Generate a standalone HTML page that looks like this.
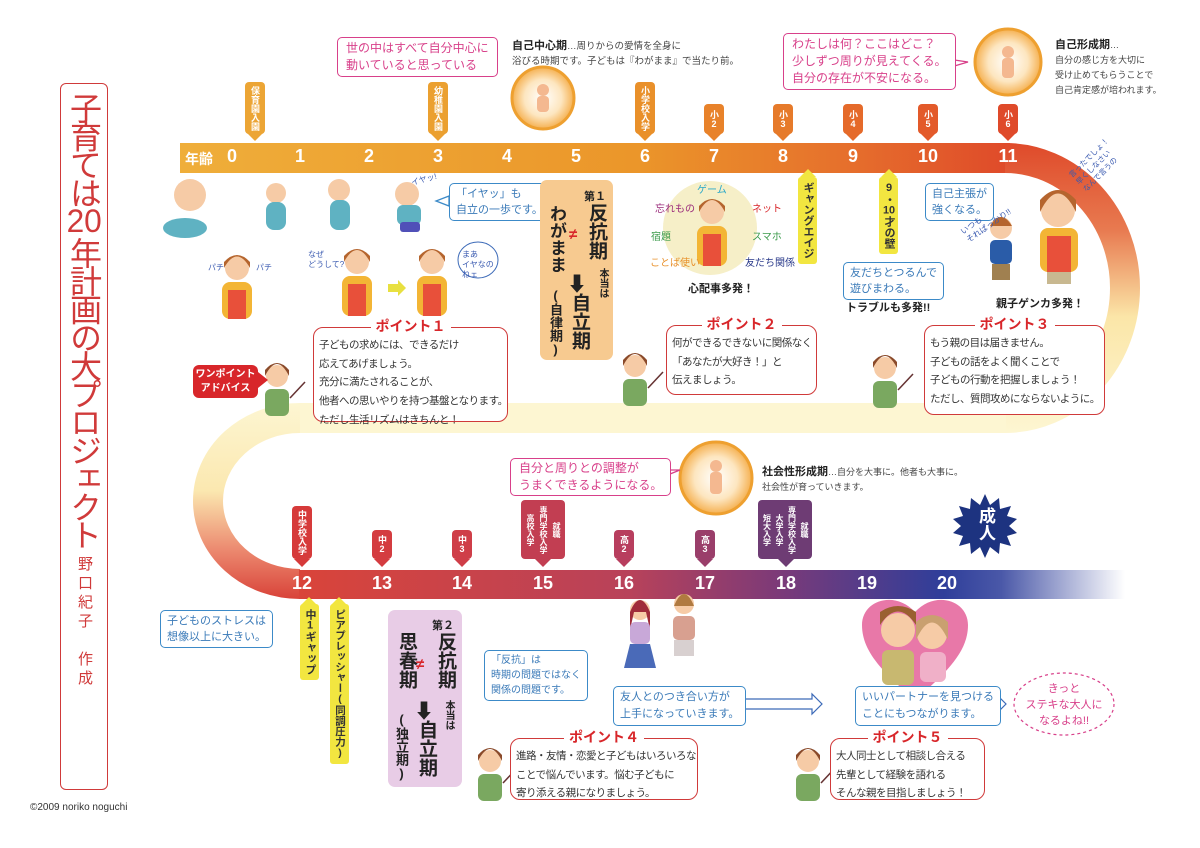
<!DOCTYPE html>
<html><head><meta charset="utf-8">
<style>
*{margin:0;padding:0;box-sizing:border-box}
body{width:1200px;height:848px;position:relative;background:#fff;font-family:"Liberation Sans","Noto Sans CJK JP",sans-serif;overflow:hidden;color:#333}
.a{position:absolute;white-space:nowrap}
.v{writing-mode:vertical-rl;text-orientation:upright}
.tag{position:absolute;width:20px;color:#fff;font-size:9px;line-height:20px;writing-mode:vertical-rl;text-orientation:upright;text-align:center;border-radius:4px;padding:4px 0;font-weight:bold;white-space:nowrap}
.num{position:absolute;color:#fff;font-size:18px;font-weight:bold;transform:translateX(-50%)}
.box{position:absolute;background:#fff;border:1.5px solid;border-radius:5px;font-size:11px;line-height:17px;padding:2px 6px;white-space:nowrap}
.pink{border-color:#d8408a;color:#d8408a}
.blue{border-color:#3c8ac8;color:#3a7ab8}
.pt{position:absolute;border:1.5px solid #d03a3a;border-radius:10px;background:#fff;font-size:10.5px;letter-spacing:-0.5px;line-height:18.7px;padding:8px 5px 4px;white-space:nowrap;color:#333}
.pt b{position:absolute;top:-11px;left:50%;transform:translateX(-50%);background:#fff;color:#d8262a;font-size:14px;padding:0 5px;line-height:18px;letter-spacing:0}
.yt{position:absolute;width:19px;background:#f2e640;color:#333;font-size:11px;font-weight:bold;writing-mode:vertical-rl;text-orientation:upright;text-align:center;line-height:19px;border-radius:3px;padding:5px 0;white-space:nowrap}
.cu{text-combine-upright:all}
</style></head><body>

<svg width="1200" height="848" style="position:absolute;left:0;top:0">
<defs>
<linearGradient id="gt" x1="180" y1="0" x2="1010" y2="0" gradientUnits="userSpaceOnUse">
<stop offset="0" stop-color="#efae3a"/><stop offset="0.55" stop-color="#eb962a"/><stop offset="0.8" stop-color="#e6702c"/><stop offset="1" stop-color="#df4a2a"/></linearGradient>
<linearGradient id="gr" x1="0" y1="143" x2="0" y2="433" gradientUnits="userSpaceOnUse">
<stop offset="0" stop-color="#df4a2a"/><stop offset="0.3" stop-color="#e87a50"/><stop offset="0.6" stop-color="#fbe6a8"/><stop offset="1" stop-color="#fdf6d2"/></linearGradient>
<linearGradient id="gl" x1="0" y1="403" x2="0" y2="598" gradientUnits="userSpaceOnUse">
<stop offset="0" stop-color="#fdf6d2"/><stop offset="0.45" stop-color="#fbe8b0"/><stop offset="0.75" stop-color="#ec8a70"/><stop offset="1" stop-color="#d9443a"/></linearGradient>
<linearGradient id="gb" x1="300" y1="0" x2="1125" y2="0" gradientUnits="userSpaceOnUse">
<stop offset="0" stop-color="#d9443a"/><stop offset="0.4" stop-color="#b8425a"/><stop offset="0.58" stop-color="#7c3a78"/><stop offset="0.78" stop-color="#2f3e9a"/><stop offset="0.85" stop-color="#4a58a8"/><stop offset="1" stop-color="#ffffff"/></linearGradient>
<radialGradient id="gc"><stop offset="0" stop-color="#fff"/><stop offset="0.6" stop-color="#fde6c0"/><stop offset="1" stop-color="#f5b050"/></radialGradient>
</defs>
<rect x="180" y="143" width="830" height="30" fill="url(#gt)"/>
<path d="M1005 158 A120 130 0 0 1 1005 418" fill="none" stroke="url(#gr)" stroke-width="30"/>
<rect x="300" y="403" width="706" height="30" fill="#fdf6d2"/>
<path d="M300 418 A92 83 0 0 0 300 584" fill="none" stroke="url(#gl)" stroke-width="30"/>
<rect x="299" y="570" width="826" height="29" fill="url(#gb)"/>

<g><circle cx="543" cy="98" r="31" fill="url(#gc)" stroke="#eea030" stroke-width="3"/><circle cx="543" cy="90" r="6" fill="#f4b890"/><rect x="537" y="96" width="12" height="16" rx="4" fill="#f4b890"/></g>
<g><circle cx="1008" cy="62" r="33" fill="url(#gc)" stroke="#eea030" stroke-width="3"/><circle cx="1008" cy="52" r="6" fill="#f4b890"/><rect x="1002" y="58" width="12" height="20" rx="4" fill="#f4b890"/></g>
<g><circle cx="716" cy="478" r="36" fill="url(#gc)" stroke="#eea030" stroke-width="3"/><circle cx="716" cy="466" r="6" fill="#f4b890"/><rect x="710" y="472" width="12" height="22" rx="4" fill="#f4b890"/></g>

<circle cx="710" cy="228" r="47" fill="#f6efc8"/>
<polygon fill="#1d3380" points="985,494 990,505 999,498 1000,509 1011,506 1007,516 1017,519 1009,526 1017,533 1007,536 1011,546 1000,543 999,554 990,547 985,558 980,547 971,554 970,543 959,546 963,536 953,533 961,526 953,519 963,516 959,506 970,509 971,498 980,505"/>

<path d="M915 700 C880 670 862 650 862 625 C862 600 895 590 915 612 C935 590 968 600 968 625 C968 650 950 670 915 700Z" fill="#e878a8"/>
<circle cx="898" cy="630" r="17" fill="#f6cba6"/><path d="M880 625 Q898 598 916 625 L916 612 Q898 600 880 612Z" fill="#9a6030"/>
<circle cx="932" cy="634" r="15" fill="#f6cba6"/><path d="M916 640 Q932 605 948 640 L948 622 Q932 608 916 622Z" fill="#c9a070"/>
<rect x="882" y="650" width="32" height="35" rx="6" fill="#c8b870"/><rect x="920" y="652" width="26" height="30" rx="6" fill="#f0b0c8"/>

<g><circle cx="190" cy="195" r="16" fill="#f6cba6"/><ellipse cx="185" cy="228" rx="22" ry="10" fill="#5fb2c2"/></g>
<g><circle cx="276" cy="193" r="10" fill="#f6cba6"/><rect x="266" y="202" width="20" height="28" rx="8" fill="#5fb2c2"/></g>
<g><circle cx="339" cy="190" r="11" fill="#f6cba6"/><rect x="330" y="200" width="20" height="30" rx="8" fill="#5fb2c2"/></g>
<g><circle cx="407" cy="194" r="12" fill="#f6cba6"/><rect x="397" y="205" width="24" height="20" rx="6" fill="#5fb2c2"/><rect x="400" y="222" width="20" height="10" rx="3" fill="#5050b8"/></g>
<g><circle cx="237" cy="268" r="12" fill="#f6cba6"/><path d="M224 268 Q237 245 250 268 L250 262 Q237 248 224 262Z" fill="#b5652e"/><rect x="222" y="282" width="30" height="37" rx="8" fill="#f3b535"/><rect x="228" y="290" width="18" height="29" fill="#e8503a"/></g>
<g><circle cx="357" cy="262" r="12" fill="#f6cba6"/><path d="M344 262 Q357 238 370 262 L370 256 Q357 242 344 256Z" fill="#b5652e"/><rect x="342" y="276" width="30" height="40" rx="8" fill="#f3b535"/><rect x="348" y="284" width="18" height="32" fill="#e8503a"/></g>
<polygon points="388,284 398,284 398,280 406,288 398,296 398,292 388,292" fill="#e8e040"/>
<g><circle cx="432" cy="262" r="12" fill="#f6cba6"/><path d="M419 262 Q432 238 445 262 L445 256 Q432 242 419 256Z" fill="#b5652e"/><rect x="417" y="276" width="30" height="40" rx="8" fill="#f3b535"/><rect x="423" y="284" width="18" height="32" fill="#e8503a"/></g>
<ellipse cx="478" cy="260" rx="20" ry="18" fill="#fff" stroke="#3c6ab8" stroke-width="1"/>
<g><circle cx="712" cy="212" r="12" fill="#f6cba6"/><path d="M699 212 Q712 188 725 212 L725 206 Q712 192 699 206Z" fill="#b5652e"/><rect x="697" y="226" width="30" height="40" rx="8" fill="#f3b535"/><rect x="703" y="234" width="18" height="32" fill="#e8503a"/></g>
<g><circle cx="1001" cy="228" r="11" fill="#f6cba6"/><path d="M990 226 Q1001 208 1012 226Z" fill="#b5652e"/><rect x="990" y="240" width="22" height="24" rx="5" fill="#2a5ca8"/><rect x="992" y="264" width="18" height="16" fill="#a08050"/></g>
<g><circle cx="1058" cy="210" r="17" fill="#f6cba6"/><path d="M1040 212 Q1058 175 1076 212 L1076 200 Q1058 180 1040 200Z" fill="#b5652e"/><rect x="1040" y="228" width="38" height="44" rx="8" fill="#f3b535"/><rect x="1047" y="236" width="24" height="36" fill="#e8503a"/><rect x="1047" y="272" width="24" height="12" fill="#c8b890"/></g>
<g id="t1"><circle cx="277" cy="376" r="11" fill="#f6cba6"/><path d="M265 376 Q277 352 289 376 L289 370 Q277 356 265 370Z" fill="#8a4a2a"/><rect x="265" y="389" width="24" height="27" rx="6" fill="#7aa860"/><line x1="290" y1="398" x2="305" y2="382" stroke="#633" stroke-width="1.5"/></g>
<use href="#t1" x="358" y="-10"/>
<use href="#t1" x="608" y="-8"/>
<use href="#t1" x="213" y="385"/>
<use href="#t1" x="531" y="385"/>
<g><circle cx="640" cy="610" r="10" fill="#f6cba6"/><path d="M630 612 Q640 588 650 612 L650 630 L646 612 L634 612 L630 630Z" fill="#a02c3a"/><rect x="630" y="622" width="20" height="22" rx="5" fill="#c8a8d8"/><polygon points="630,644 650,644 656,668 624,668" fill="#4a6ab8"/></g>
<g><circle cx="684" cy="604" r="10" fill="#f6cba6"/><path d="M674 606 Q684 582 694 606Z" fill="#b07a40"/><rect x="673" y="616" width="22" height="24" rx="5" fill="#d8a090"/><rect x="674" y="640" width="20" height="16" fill="#d8d0d0"/></g>

<polygon points="728,699 812,699 812,694 822,704 812,714 812,709 728,709" fill="#fff" stroke="#3c6ab8" stroke-width="1.2"/>
<polygon points="982,699 996,699 996,694 1006,704 996,714 996,709 982,709" fill="#fff" stroke="#3c6ab8" stroke-width="1.2"/>
<ellipse cx="1064" cy="704" rx="50" ry="31" fill="#fff" stroke="#d8408a" stroke-width="1.2" stroke-dasharray="3 3"/>

<polygon points="455,48 470,58 452,62" fill="#fff" stroke="#d8408a" stroke-width="1.3"/>
<polygon points="934,57 968,62 934,72" fill="#fff" stroke="#d8408a" stroke-width="1.3"/>
<polygon points="449,196 436,201 449,206" fill="#fff" stroke="#3c8ac8" stroke-width="1.3"/>
<polygon points="650,470 680,470 650,482" fill="#fff" stroke="#d8408a" stroke-width="1.3"/>
<polygon points="258,372 268,380 258,388" fill="#d8262a"/>
</svg>

<div class="a" style="left:60px;top:83px;width:48px;height:707px;border:1.5px solid #d03a3a;border-radius:6px"></div>
<div class="a v" style="left:64px;top:92px;font-size:32px;line-height:40px;color:#d03a3a;letter-spacing:-3.8px">子育ては<span class="cu">20</span>年計画の大プロジェクト</div>
<div class="a v" style="left:74px;top:556px;font-size:15px;line-height:20px;color:#d03a3a;letter-spacing:4px">野口紀子　作成</div>
<div class="a" style="left:30px;top:802px;font-size:10px;color:#333">©2009 noriko noguchi</div>

<div class="a" style="left:185px;top:149px;font-size:14px;font-weight:bold;color:#fff">年齢</div>
<div class="num" style="left:232px;top:146px">0</div>
<div class="num" style="left:300px;top:146px">1</div>
<div class="num" style="left:369px;top:146px">2</div>
<div class="num" style="left:438px;top:146px">3</div>
<div class="num" style="left:507px;top:146px">4</div>
<div class="num" style="left:576px;top:146px">5</div>
<div class="num" style="left:645px;top:146px">6</div>
<div class="num" style="left:714px;top:146px">7</div>
<div class="num" style="left:783px;top:146px">8</div>
<div class="num" style="left:853px;top:146px">9</div>
<div class="num" style="left:928px;top:146px">10</div>
<div class="num" style="left:1008px;top:146px">11</div>

<div class="tag" style="left:245px;top:82px;height:52px;background:#eca535">保育園入園</div>
<div class="tag" style="left:428px;top:82px;height:52px;background:#eba030">幼稚園入園</div>
<div class="tag" style="left:635px;top:82px;height:52px;background:#e9902a">小学校入学</div>
<div class="tag" style="left:704px;top:104px;height:30px;background:#e8822a">小2</div>
<div class="tag" style="left:773px;top:104px;height:30px;background:#e67a2a">小3</div>
<div class="tag" style="left:843px;top:104px;height:30px;background:#e56a2a">小4</div>
<div class="tag" style="left:918px;top:104px;height:30px;background:#e35a2a">小5</div>
<div class="tag" style="left:998px;top:104px;height:30px;background:#df4a2a">小6</div>
<svg width="1200" height="848" style="position:absolute;left:0;top:0">
<polygon points="247,133 263,133 255,141" fill="#eca535"/>
<polygon points="430,133 446,133 438,141" fill="#eba030"/>
<polygon points="637,133 653,133 645,141" fill="#e9902a"/>
<polygon points="706,133 722,133 714,141" fill="#e8822a"/>
<polygon points="775,133 791,133 783,141" fill="#e67a2a"/>
<polygon points="845,133 861,133 853,141" fill="#e56a2a"/>
<polygon points="920,133 936,133 928,141" fill="#e35a2a"/>
<polygon points="1000,133 1016,133 1008,141" fill="#df4a2a"/>
<polygon points="294,559 310,559 302,567" fill="#d63a3a"/>
<polygon points="374,559 390,559 382,567" fill="#d43c40"/>
<polygon points="454,559 470,559 462,567" fill="#cf3e48"/>
<polygon points="535,559 551,559 543,567" fill="#c23e52"/>
<polygon points="616,559 632,559 624,567" fill="#b83e5e"/>
<polygon points="697,559 713,559 705,567" fill="#9a3e6a"/>
<polygon points="778,559 794,559 786,567" fill="#6e3c74"/>
<polygon points="800,177 816,177 808,169" fill="#f2e640"/>
<polygon points="881,177 897,177 889,169" fill="#f2e640"/>
<polygon points="301,605 317,605 309,597" fill="#f2e640"/>
<polygon points="331,605 347,605 339,597" fill="#f2e640"/>
</svg>

<div class="box pink" style="left:337px;top:37px;font-size:12px;line-height:17px;padding:2px 8px">世の中はすべて自分中心に<br>動いていると思っている</div>
<div class="a" style="left:512px;top:39px;font-size:9.5px;line-height:15px;color:#444"><b style="font-size:11px;color:#222">自己中心期</b>…周りからの愛情を全身に<br>浴びる時期です。子どもは『わがまま』で当たり前。</div>
<div class="box pink" style="left:783px;top:33px;font-size:12px;line-height:17px;padding:2px 8px">わたしは何？ここはどこ？<br>少しずつ周りが見えてくる。<br>自分の存在が不安になる。</div>
<div class="a" style="left:1055px;top:38px;font-size:9px;line-height:15px;color:#444"><b style="font-size:11px;color:#222">自己形成期</b>…<br>自分の感じ方を大切に<br>受け止めてもらうことで<br>自己肯定感が培われます。</div>

<div class="box blue" style="left:449px;top:183px;line-height:16px">「イヤッ」も<br>自立の一歩です。</div>
<div class="a" style="left:411px;top:174px;font-size:8px;color:#3a5ab0;transform:rotate(-15deg)">イヤッ!</div>
<div class="a" style="left:208px;top:262px;font-size:8px;color:#3a5ab0">パチ</div>
<div class="a" style="left:256px;top:262px;font-size:8px;color:#3a5ab0">パチ</div>
<div class="a" style="left:308px;top:250px;font-size:8px;color:#3a5ab0;line-height:10px">なぜ<br>どうして?</div>
<div class="a" style="left:462px;top:250px;font-size:8px;color:#3a5ab0;line-height:10px">まあ<br>イヤなの<br>ねェ</div>

<div class="a" style="left:540px;top:180px;width:73px;height:180px;background:#f7ca90;border-radius:7px"></div>
<div class="a" style="left:584px;top:188px;font-size:11px;font-weight:bold;color:#222">第１</div>
<div class="a v" style="left:585px;top:203px;font-size:19px;line-height:22px;font-weight:bold;color:#222">反抗期</div>
<div class="a v" style="left:546px;top:205px;font-size:17px;line-height:20px;font-weight:bold;color:#222">わがまま</div>
<div class="a" style="left:569px;top:226px;font-size:15px;font-weight:bold;color:#d8262a">≠</div>
<div class="a" style="left:567px;top:268px;font-size:20px;font-weight:bold;color:#222">⬇</div>
<div class="a v" style="left:568px;top:293px;font-size:19px;line-height:22px;font-weight:bold;color:#222">自立期</div>
<div class="a v" style="left:596px;top:268px;font-size:10px;line-height:12px;font-weight:bold;color:#222">本当は</div>
<div class="a v" style="left:547px;top:288px;font-size:13px;line-height:16px;font-weight:bold;color:#222">(自律期)</div>

<div class="a" style="left:697px;top:181px;font-size:10px;color:#2aa8c8">ゲーム</div>
<div class="a" style="left:655px;top:200px;font-size:10px;color:#9a2a7a">忘れもの</div>
<div class="a" style="left:752px;top:200px;font-size:10px;color:#d8262a">ネット</div>
<div class="a" style="left:651px;top:228px;font-size:10px;color:#3a9a4a">宿題</div>
<div class="a" style="left:752px;top:228px;font-size:10px;color:#3a9a4a">スマホ</div>
<div class="a" style="left:650px;top:254px;font-size:10px;color:#e8902a">ことば使い</div>
<div class="a" style="left:745px;top:254px;font-size:10px;color:#2a3a8a">友だち関係</div>
<div class="a" style="left:688px;top:280px;font-size:11px;font-weight:bold;color:#222">心配事多発！</div>

<div class="yt" style="left:798px;top:177px">ギャングエイジ</div>
<div class="yt" style="left:879px;top:177px">9・<span class="cu">10</span>才の壁</div>
<div class="box blue" style="left:925px;top:183px;line-height:16px">自己主張が<br>強くなる。</div>
<div class="box blue" style="left:843px;top:262px;line-height:16px">友だちとつるんで<br>遊びまわる。</div>
<div class="a" style="left:846px;top:299px;font-size:11px;font-weight:bold;color:#222">トラブルも多発!!</div>
<div class="a" style="left:996px;top:295px;font-size:11px;font-weight:bold;color:#222">親子ゲンカ多発！</div>
<div class="a" style="left:960px;top:212px;font-size:8px;color:#3a5ab0;line-height:10px;transform:rotate(-35deg)">いつも<br>それぱっかり!!</div>
<div class="a" style="left:1070px;top:150px;font-size:7.5px;color:#3a5ab0;line-height:10px;transform:rotate(-45deg)">言ったでしょ！<br>早くしなさい<br>なんで言うの</div>

<div class="a" style="left:193px;top:365px;width:65px;height:33px;background:#d8262a;border-radius:6px;color:#fff;font-size:10px;font-weight:bold;text-align:center;line-height:14px;padding-top:3px">ワンポイント<br>アドバイス</div>
<div class="pt" style="left:313px;top:327px;width:195px;height:95px"><b>ポイント１</b>子どもの求めには、できるだけ<br>応えてあげましょう。<br>充分に満たされることが、<br>他者への思いやりを持つ基盤となります。<br>ただし生活リズムはきちんと！</div>
<div class="pt" style="left:666px;top:325px;width:151px;height:70px"><b>ポイント２</b>何ができるできないに関係なく<br>「あなたが大好き！」と<br>伝えましょう。</div>
<div class="pt" style="left:924px;top:325px;width:181px;height:90px"><b>ポイント３</b>もう親の目は届きません。<br>子どもの話をよく聞くことで<br>子どもの行動を把握しましょう！<br>ただし、質問攻めにならないように。</div>

<div class="box pink" style="left:510px;top:458px;font-size:12px;line-height:17px;padding:1px 8px">自分と周りとの調整が<br>うまくできるようになる。</div>
<div class="a" style="left:762px;top:465px;font-size:9px;line-height:15px;color:#444"><b style="font-size:11px;color:#222">社会性形成期</b>…自分を大事に。他者も大事に。<br>社会性が育っていきます。</div>
<div class="a v" style="left:974px;top:507px;font-size:17px;line-height:22px;font-weight:bold;color:#fff">成人</div>

<div class="num" style="left:302px;top:573px">12</div>
<div class="num" style="left:382px;top:573px">13</div>
<div class="num" style="left:462px;top:573px">14</div>
<div class="num" style="left:543px;top:573px">15</div>
<div class="num" style="left:624px;top:573px">16</div>
<div class="num" style="left:705px;top:573px">17</div>
<div class="num" style="left:786px;top:573px">18</div>
<div class="num" style="left:867px;top:573px">19</div>
<div class="num" style="left:947px;top:573px">20</div>

<div class="tag" style="left:292px;top:506px;height:53px;background:#d63a3a">中学校入学</div>
<div class="tag" style="left:372px;top:530px;height:29px;background:#d43c40">中2</div>
<div class="tag" style="left:452px;top:530px;height:29px;background:#cf3e48">中3</div>
<div class="tag" style="left:521px;top:500px;width:44px;height:59px;background:#c23e52;font-size:8px;line-height:13px;padding:3px 2px">就職<br>専門学校入学<br>高校入学</div>
<div class="tag" style="left:614px;top:530px;height:29px;background:#b83e5e">高2</div>
<div class="tag" style="left:695px;top:530px;height:29px;background:#9a3e6a">高3</div>
<div class="tag" style="left:758px;top:500px;width:54px;height:59px;background:#6e3c74;font-size:8px;line-height:12.5px;padding:3px 2px">就職<br>専門学校入学<br>大学入学<br>短大入学</div>

<div class="yt" style="left:300px;top:604px">中<span class="cu">1</span>ギャップ</div>
<div class="yt" style="left:330px;top:604px;font-size:10.5px">ピアプレッシャー(同調圧力)</div>
<div class="box blue" style="left:160px;top:610px;line-height:16px">子どものストレスは<br>想像以上に大きい。</div>

<div class="a" style="left:388px;top:610px;width:74px;height:177px;background:#e8cce6;border-radius:7px"></div>
<div class="a" style="left:432px;top:617px;font-size:11px;font-weight:bold;color:#222">第２</div>
<div class="a v" style="left:434px;top:632px;font-size:19px;line-height:22px;font-weight:bold;color:#222">反抗期</div>
<div class="a v" style="left:395px;top:632px;font-size:19px;line-height:22px;font-weight:bold;color:#222">思春期</div>
<div class="a" style="left:416px;top:656px;font-size:15px;font-weight:bold;color:#d8262a">≠</div>
<div class="a" style="left:414px;top:695px;font-size:20px;font-weight:bold;color:#222">⬇</div>
<div class="a v" style="left:415px;top:720px;font-size:19px;line-height:22px;font-weight:bold;color:#222">自立期</div>
<div class="a v" style="left:442px;top:700px;font-size:10px;line-height:12px;font-weight:bold;color:#222">本当は</div>
<div class="a v" style="left:393px;top:712px;font-size:13px;line-height:16px;font-weight:bold;color:#222">(独立期)</div>

<div class="box blue" style="left:484px;top:650px;font-size:10px;line-height:15px">「反抗」は<br>時期の問題ではなく<br>関係の問題です。</div>
<div class="box blue" style="left:613px;top:686px;line-height:17px">友人とのつき合い方が<br>上手になっていきます。</div>
<div class="box blue" style="left:855px;top:686px;line-height:17px">いいパートナーを見つける<br>ことにもつながります。</div>
<div class="a" style="left:1014px;top:681px;width:100px;text-align:center;font-size:11px;line-height:16px;color:#d8408a">きっと<br>ステキな大人に<br>なるよね!!</div>

<div class="pt" style="left:510px;top:738px;width:188px;height:62px"><b>ポイント４</b>進路・友情・恋愛と子どもはいろいろな<br>ことで悩んでいます。悩む子どもに<br>寄り添える親になりましょう。</div>
<div class="pt" style="left:830px;top:738px;width:155px;height:62px"><b>ポイント５</b>大人同士として相談し合える<br>先輩として経験を語れる<br>そんな親を目指しましょう！</div>
</body></html>
